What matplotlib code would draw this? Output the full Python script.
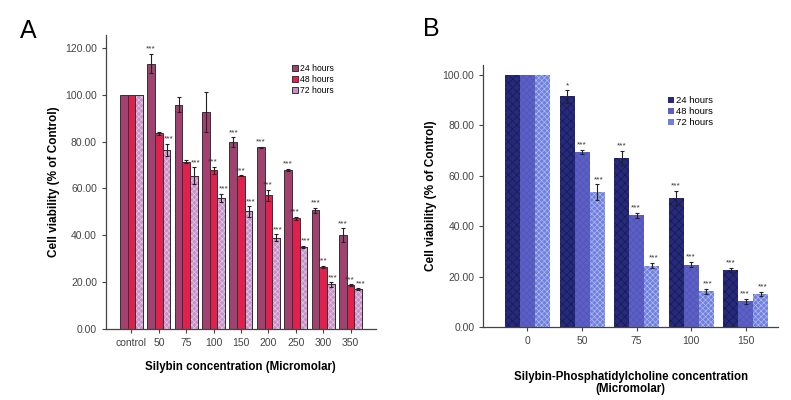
import numpy as np
import matplotlib
matplotlib.use("Agg")
import matplotlib.pyplot as plt

plt.rcParams['font.family'] = ['Liberation Sans', 'DejaVu Sans']
plt.rcParams['hatch.linewidth'] = 0.5

# panel A data (silybin)
conc_a = ["control", "50", "75", "100", "150", "200", "250", "300", "350"]
a_24 = [100, 113.3, 95.7, 92.7, 79.8, 77.5, 68.0, 50.7, 40.0]
a_48 = [100, 83.5, 71.5, 67.7, 65.5, 57.0, 47.2, 26.6, 18.8]
a_72 = [100, 76.5, 65.4, 56.0, 50.2, 38.9, 35.0, 19.0, 17.0]
a_24_err = [0, 4.2, 3.2, 8.5, 2.0, 0.2, 0.4, 1.0, 3.0]
a_48_err = [0, 0.8, 0.5, 1.5, 0.1, 2.5, 0.6, 0.4, 0.3]
a_72_err = [0, 2.5, 3.6, 1.8, 2.2, 1.5, 0.6, 1.0, 0.4]
a_24_sig = ["", "***", "", "", "***", "***", "***", "***", "***"]
a_48_sig = ["", "", "", "***", "***", "***", "***", "***", "***"]
a_72_sig = ["", "***", "***", "***", "***", "***", "***", "***", "***"]

# panel B data (silybin-phosphatidylcholine)
conc_b = ["0", "50", "75", "100", "150"]
b_24 = [100, 91.5, 67.2, 51.2, 22.8]
b_48 = [100, 69.5, 44.3, 24.8, 10.2]
b_72 = [100, 53.5, 24.4, 14.2, 13.2]
b_24_err = [0, 2.5, 2.8, 2.8, 0.8]
b_48_err = [0, 0.8, 1.0, 1.0, 1.0]
b_72_err = [0, 3.2, 1.0, 1.0, 0.8]
b_24_sig = ["", "*", "***", "***", "***"]
b_48_sig = ["", "***", "***", "***", "***"]
b_72_sig = ["", "***", "***", "***", "***"]

labels = ["24 hours", "48 hours", "72 hours"]
colors_a = ["#a2406f", "#e2204e", "#c890c8"]
hatch_a = [None, None, "xxxxxx"]
hatchcol_a = ["#a2406f", "#e2204e", "#e4c8e4"]
colors_b = ["#262a78", "#5c60c6", "#7080dc"]
hatch_b = ["xxxx", "xxxxx", "xxxxxx"]
hatchcol_b = ["#161a58", "#5054b4", "#b0bcf4"]
star_shift = [0, -0.5, 1.5]  # points, keeps neighbouring stars apart

fig = plt.figure(figsize=(7.91, 4.0), dpi=100)


def panel(ax, cats, series, errs, sigs, colors, hatches, hcolors, width, edge, ylim, yticks, xlim):
    x = np.arange(len(cats))
    handles = []
    for i, (vals, err, sig) in enumerate(zip(series, errs, sigs)):
        pos = x + (i - 1) * width
        b = ax.bar(pos, vals, width, color=colors[i], edgecolor=edge, linewidth=0.7, zorder=2)
        if hatches[i]:
            ax.bar(pos, vals, width, facecolor="none", edgecolor=hcolors[i],
                   hatch=hatches[i], linewidth=0, zorder=3)
            ax.bar(pos, vals, width, facecolor="none", edgecolor=edge, linewidth=0.7, zorder=4)
        ax.errorbar(pos, vals, yerr=[e if e > 0 else np.nan for e in err], fmt="none",
                    ecolor="#222222", elinewidth=0.8, capsize=1.5, capthick=0.8, zorder=5)
        for p, v, e, s in zip(pos, vals, err, sig):
            if s:
                ax.annotate(s, (p, v + e + 0.5), xytext=(star_shift[i], 0),
                            textcoords="offset points", ha="center", va="bottom",
                            fontsize=6.0, color="#333333", zorder=6)
        handles.append(b)
    ax.set_xticks(x)
    ax.set_xticklabels(cats)
    ax.set_ylim(*ylim)
    ax.set_yticks(yticks)
    ax.set_yticklabels(["%.2f" % t for t in yticks])
    ax.set_xlim(*xlim)
    for s in ["top", "right"]:
        ax.spines[s].set_visible(False)
    for s in ["left", "bottom"]:
        ax.spines[s].set_color("#444444")
        ax.spines[s].set_linewidth(0.9)
    ax.tick_params(axis="both", labelsize=7.5, labelcolor="#444444", color="#444444",
                   length=3, width=0.8)
    ax.set_ylabel("Cell viability (% of Control)", fontsize=8.5, fontweight="bold")
    return handles


axA = fig.add_axes([0.134, 0.1775, 0.341, 0.735])
hA = panel(axA, conc_a, [a_24, a_48, a_72], [a_24_err, a_48_err, a_72_err],
           [a_24_sig, a_48_sig, a_72_sig], colors_a, hatch_a, hatchcol_a, 0.28, "#333333",
           (0, 125.5), [0, 20, 40, 60, 80, 100, 120], (-0.93, 8.92))
axA.set_xlabel("Silybin concentration (Micromolar)", fontsize=8.3, fontweight="bold", labelpad=9)
axA.legend(hA, labels, loc="upper left", bbox_to_anchor=(0.69, 0.9), fontsize=6.2,
           frameon=False, handlelength=0.7, handleheight=0.7, handletextpad=0.2,
           labelspacing=0.2, borderaxespad=0, borderpad=0)

axB = fig.add_axes([0.611, 0.1825, 0.373, 0.655])
hB = panel(axB, conc_b, [b_24, b_48, b_72], [b_24_err, b_48_err, b_72_err],
           [b_24_sig, b_48_sig, b_72_sig], colors_b, hatch_b, hatchcol_b, 0.275, "none",
           (0, 104), [0, 20, 40, 60, 80, 100], (-0.81, 4.6))
axB.set_xlabel("Silybin-Phosphatidylcholine concentration\n(Micromolar)", fontsize=8.3,
               fontweight="bold", labelpad=18, linespacing=1.0)
axB.legend(hB, labels, loc="upper left", bbox_to_anchor=(0.625, 0.88), fontsize=6.8,
           frameon=False, handlelength=0.7, handleheight=0.7, handletextpad=0.2,
           labelspacing=0.2, borderaxespad=0, borderpad=0)

fig.text(0.025, 0.905, "A", fontsize=18)
fig.text(0.535, 0.91, "B", fontsize=18)

fig.savefig("out.png", dpi=100)
